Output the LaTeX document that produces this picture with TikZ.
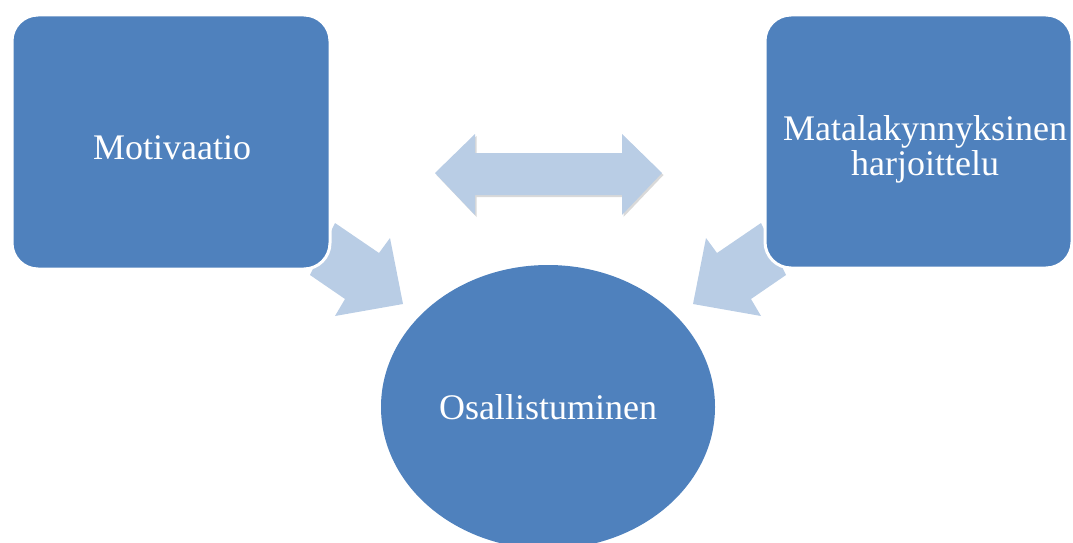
\documentclass[tikz,border=0pt]{standalone}
\usepackage{fontspec}
\setmainfont{Liberation Serif}
\usetikzlibrary{shapes.geometric}
\definecolor{boxblue}{RGB}{79,129,189}
\definecolor{arrowblue}{RGB}{185,205,229}
\begin{document}
\begin{tikzpicture}[x=1pt,y=-1pt,
  box/.style={fill=boxblue, draw=white, line width=3pt, rounded corners=26pt, inner sep=0pt},
  lbl/.style={text=white, font=\fontsize{36}{35}\selectfont, align=center, inner sep=0pt},
  oval/.style={ellipse, fill=boxblue, inner sep=0pt, text=white, font=\fontsize{36}{35}\selectfont},
  arrowshape/.style={fill=arrowblue}
]
\useasboundingbox (0,0) rectangle (1073,543);

% block arrows pointing at the central oval
\fill[arrowshape] (335,223) -- (379,253) -- (390,238) -- (403,304) -- (335,316) -- (345,299) -- (310,275) -- cycle;
\fill[arrowshape] (761,223) -- (717,253) -- (706,238) -- (693,304) -- (761,316) -- (751,299) -- (786,275) -- cycle;

% two-way arrow with its soft shadow
\fill[gray!30] (436.5,175) -- (476.5,136) -- (476.5,155) -- (623.5,155) -- (623.5,136) -- (663.5,175) -- (623.5,217) -- (623.5,197) -- (476.5,197) -- (476.5,217) -- cycle;
\fill[arrowshape] (435,173) -- (475,134) -- (475,153) -- (622,153) -- (622,134) -- (662,173) -- (622,215) -- (622,195) -- (475,195) -- (475,215) -- cycle;

% rounded boxes
\node[box, minimum width=318pt, minimum height=254pt] (mot) at (171,142) {};
\node[lbl, anchor=base] (motlbl) at (172,159) {Motivaatio};

\node[box, minimum width=307pt, minimum height=253pt] (mat) at (918.5,141.5) {};
\node[lbl, anchor=base] (matlbl1) at (925,140) {Matalakynnyksinen};
\node[lbl, anchor=base] (matlbl2) at (925,175) {harjoittelu};

% central oval
\node[oval, minimum width=334pt, minimum height=284pt] (osa) at (548,407) {Osallistuminen};
\end{tikzpicture}
\end{document}
